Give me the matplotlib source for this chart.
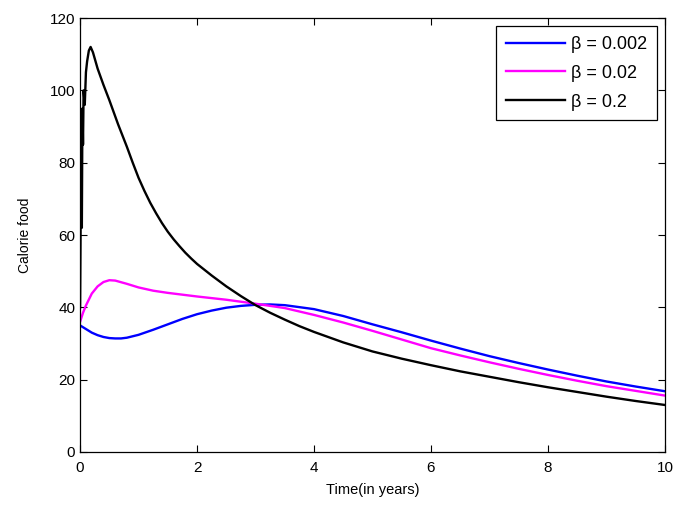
import matplotlib
matplotlib.use("Agg")
import matplotlib.pyplot as plt

plt.rcParams['font.family'] = ['Liberation Sans', 'DejaVu Sans']

t_blue = [0, 0.1, 0.2, 0.3, 0.4, 0.5, 0.6, 0.7, 0.8, 1.0, 1.25, 1.5, 1.75, 2.0,
          2.25, 2.5, 2.75, 3.0, 3.25, 3.5, 4.0, 4.5, 5.0, 5.5, 6.0, 6.5, 7.0,
          7.5, 8.0, 8.5, 9.0, 9.5, 10]
y_blue = [35.0, 34.0, 33.0, 32.3, 31.8, 31.5, 31.4, 31.4, 31.6, 32.4, 33.8,
          35.3, 36.8, 38.1, 39.1, 39.9, 40.4, 40.7, 40.8, 40.6, 39.5, 37.6,
          35.3, 33.1, 30.8, 28.6, 26.5, 24.6, 22.8, 21.1, 19.5, 18.1, 16.8]

t_mag = [0, 0.05, 0.1, 0.2, 0.3, 0.4, 0.5, 0.6, 0.8, 1.0, 1.25, 1.5, 2.0, 2.5,
         3.0, 3.5, 4.0, 4.5, 5.0, 5.5, 6.0, 6.5, 7.0, 7.5, 8.0, 8.5, 9.0, 9.5, 10]
y_mag = [36.0, 38.5, 40.5, 43.8, 45.8, 47.0, 47.5, 47.4, 46.5, 45.5, 44.6,
         44.0, 43.0, 42.1, 41.0, 39.8, 37.9, 35.8, 33.5, 31.1, 28.7, 26.7,
         24.8, 23.0, 21.3, 19.7, 18.2, 16.9, 15.6]

t_blk = [0, 0.01, 0.02, 0.03, 0.04, 0.05, 0.06, 0.08, 0.1, 0.12, 0.15, 0.18,
         0.22, 0.3, 0.4, 0.5, 0.65, 0.8, 0.9, 1.0, 1.1, 1.2, 1.3, 1.4, 1.5,
         1.6, 1.7, 1.8, 1.9, 2.0, 2.25, 2.5, 2.75, 3.0, 3.25, 3.5, 3.75, 4.0,
         4.5, 5.0, 5.5, 6.0, 6.5, 7.0, 7.5, 8.0, 8.5, 9.0, 9.5, 10]
y_blk = [40.0, 65.0, 90.0, 62.0, 95.0, 85.0, 100.0, 96.0, 105.0, 108.0, 111.0,
         112.0, 110.5, 106.0, 101.5, 97.3, 90.6, 84.4, 80.0, 75.8, 72.2, 68.9,
         66.0, 63.3, 60.9, 58.8, 56.9, 55.1, 53.5, 52.0, 48.8, 45.8, 43.1,
         40.6, 38.5, 36.6, 34.8, 33.2, 30.3, 27.8, 25.8, 24.0, 22.3, 20.8,
         19.3, 17.9, 16.6, 15.3, 14.1, 13.0]

labels = ['β = 0.002', 'β = 0.02', 'β = 0.2']
colors = ['#0000ff', '#ff00ff', '#000000']

fig = plt.figure(figsize=(6.73, 5.09), dpi=100)
ax = fig.add_axes([0.119, 0.112, 0.869, 0.8526])

for t, y, lab, c in zip([t_blue, t_mag, t_blk], [y_blue, y_mag, y_blk], labels, colors):
    ax.plot(t, y, color=c, lw=1.7, label=lab)

ax.set_xlim(0, 10)
ax.set_ylim(0, 120)
ax.set_xticks([0, 2, 4, 6, 8, 10])
ax.set_yticks([0, 20, 40, 60, 80, 100, 120])
ax.tick_params(direction='in', top=True, right=True, labelsize=11, length=5, width=0.8)
ax.tick_params(axis='x', pad=6.5)
for s in ax.spines.values():
    s.set_linewidth(0.9)
ax.set_xlabel('Time(in years)', fontsize=10.5, labelpad=6)
ax.set_ylabel('Calorie food', fontsize=10, labelpad=13)

leg = ax.legend(loc='upper right', fontsize=13, frameon=True, fancybox=False,
                edgecolor='black', framealpha=1, handlelength=3.3,
                borderaxespad=0.45, labelspacing=0.65, handletextpad=0.3,
                borderpad=0.55)
leg.get_frame().set_linewidth(0.9)

fig.savefig('out.png', dpi=100)
